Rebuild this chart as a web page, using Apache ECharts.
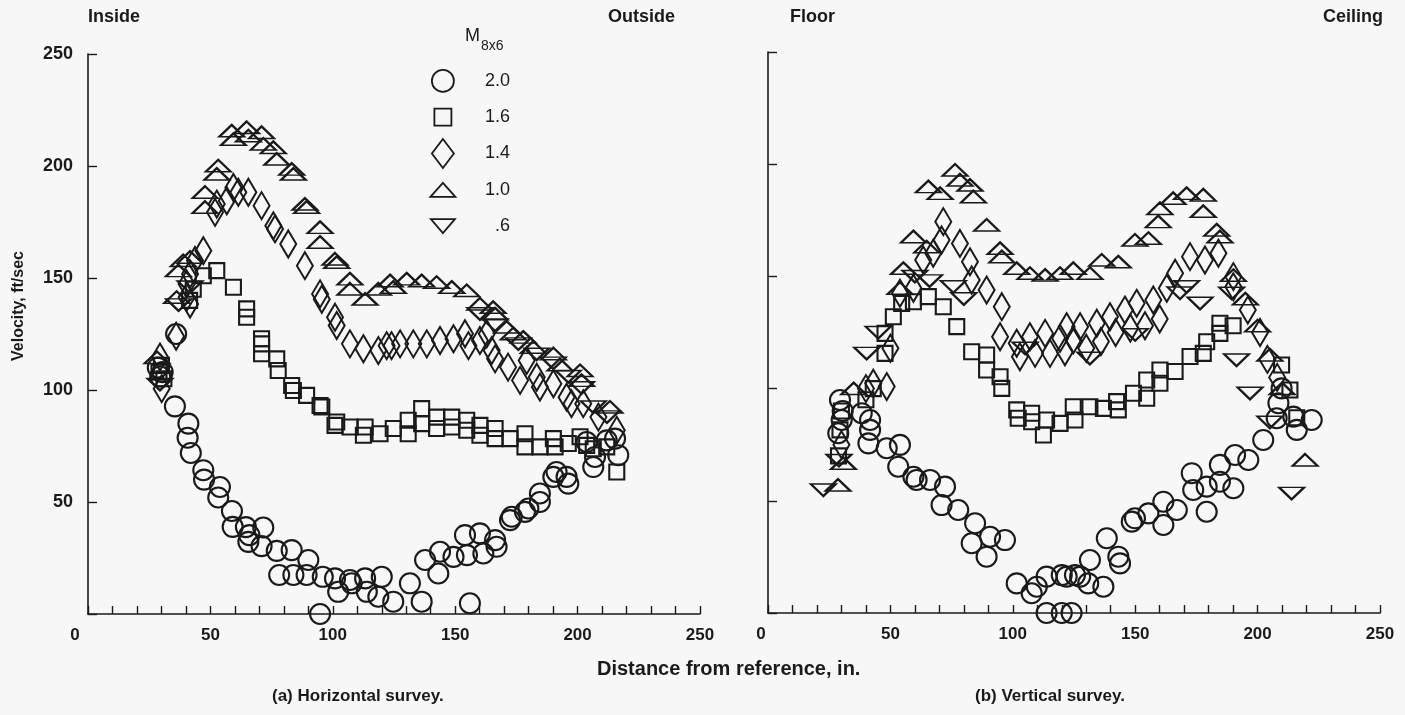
<!DOCTYPE html>
<html><head><meta charset="utf-8">
<script src="https://cdn.jsdelivr.net/npm/echarts@6.0.0/dist/echarts.min.js"></script>
<style>html,body{margin:0;padding:0;background:#f7f7f7}#c{width:1405px;height:715px}</style>
</head><body><div id="c"></div><script>
// ---- data (x = distance in., y = velocity ft/sec) ----
var legendNames = ['2.0', '1.6', '1.4', '1.0', '.6'];
var xTickLabels = [0, 50, 100, 150, 200, 250];
var yTickLabels = [50, 100, 150, 200, 250];

// (a) Horizontal survey
var hCircle = [[28.5,110],[29.5,106],[30.5,108],[35.5,92.7],[36,125],[40.7,78.7],[41,85],[42,71.9],[47.1,64.2],[47.4,60],[53.2,52],[53.9,56.7],[58.8,46],[59.1,38.9],[64.5,38.8],[65.5,32.2],[65.9,35.2],[70.9,30.3],[71.6,38.6],[77.1,28.2],[78.1,17.4],[83.2,28.5],[83.9,17.4],[89.3,17.4],[90,24.1],[94.8,0],[95.9,16.6],[100.9,15.9],[102.2,9.9],[107,15.2],[107.7,13.7],[113.2,15.9],[113.9,9.9],[118.6,7.7],[120,16.6],[124.7,5.5],[131.5,13.7],[136.3,5.5],[137.7,24.1],[143.1,18.1],[143.8,27.8],[149.3,25.5],[154,35.2],[154.8,26.3],[156,4.8],[160.1,36],[161.5,27],[166.3,33],[166.9,30],[172.4,41.9],[173.1,43.4],[178.5,45.6],[179.9,47.1],[184.6,50],[184.6,53.8],[190.1,61.2],[191.4,63.4],[195.5,61.2],[196.2,58.2],[203.7,76.8],[206.4,65.6],[207.1,70.1],[211.9,77.5],[215.3,78.3],[216.6,70.9]];
var hSquare = [[29,108],[30,111],[31,105],[41.5,140],[43,145],[47.1,151],[52.6,153.3],[59.4,145.9],[64.8,136.2],[64.8,132.5],[70.9,122.9],[70.9,120.6],[70.9,116.2],[77.1,113.9],[77.7,108.7],[83.2,102],[83.9,99.8],[89.3,97.6],[94.8,93.1],[95.5,92.4],[100.9,84.2],[101.6,85.7],[107,83.5],[112.5,79.8],[113.2,83.5],[119.3,80.5],[124.7,82.8],[130.8,80.5],[130.8,86.5],[136.3,91.7],[136.3,85],[142.4,87.9],[142.4,82.8],[148.6,87.9],[148.6,83.5],[154.7,86.5],[154.7,82],[160.1,84.2],[160.1,79.8],[166.3,82.8],[166.3,78.3],[172.4,78.3],[178.5,80.5],[178.5,74.6],[184.6,74.6],[190.1,78.3],[190.8,74.6],[196.2,76.1],[201,79.1],[203.7,75.3],[206.4,73.8],[211.9,74.6],[216,63.4]];
var hDiamond = [[29.4,114.7],[30.1,100.6],[36,124],[40.3,141.4],[40.3,147.3],[41.7,138.4],[41.7,151.8],[43.7,157.8],[47.1,162.2],[51.9,179.3],[52.6,183],[56.7,184.5],[59.4,190.4],[61.4,188.3],[65.5,188.3],[70.9,182.3],[75.7,173.3],[76.4,171.9],[81.8,165.2],[88.6,155.5],[94.8,142.9],[95.5,140.5],[100.9,132.5],[101.6,128.8],[107,120.6],[112.5,118.4],[118.6,117.6],[122,119.8],[124,119.8],[127.5,120.6],[132.9,120.6],[138.4,120.6],[143.8,122.1],[149.3,122.9],[154,125.1],[155.4,119.8],[160.1,122.1],[162.9,125.1],[164.9,117.6],[166.3,113.9],[171.6,110.2],[176.5,104.3],[179.2,113.2],[183.3,105.7],[184.6,101.3],[190.1,102.8],[195.5,96.8],[197.5,93.9],[202.3,93.9],[208.5,87.9],[216,82]];
var hTriangle = [[28.2,114.5],[36.2,141.4],[36.9,153.3],[38.9,157.8],[41.7,159.3],[47.8,181.6],[47.8,188.3],[52.6,196.4],[53.2,200.1],[58.7,215.7],[59.4,211.9],[64.8,217.2],[65.5,213.5],[70.9,215],[71.6,209.8],[75.7,208.3],[77.1,203.1],[83.2,198.6],[83.9,196.4],[88.6,183],[89.3,181.6],[94.8,172.6],[94.8,166],[100.9,158.5],[101.6,157],[107,149.6],[107,145.1],[113.2,140.6],[118.6,145.1],[123.4,148.8],[124.7,145.9],[130.2,149.6],[136.3,148.8],[142.4,148.1],[148.6,145.9],[154.7,144.4],[160.1,138.4],[165.5,136.9],[166.3,134],[171,128.1],[173.7,125.1],[177.8,123.6],[181.9,119.1],[190.1,116.2],[192.8,111.3],[201,108.7],[201.6,104.3],[213.2,92.4]];
var hDown = [[29.4,102.5],[37,138],[41.7,146],[160.1,134],[166.3,129],[175.8,120.6],[183.3,116],[190.1,112],[196.2,106],[201.6,101],[206.4,92.4],[212,88]];

// (b) Vertical survey
var vCircle = [[28.7,80.1],[29.4,94.9],[30.1,86],[30.5,90],[38.3,89],[41,75.6],[41.7,81.6],[41.7,86],[48.5,73.4],[53.2,65.2],[53.9,74.9],[59.4,60.7],[60.7,59.3],[66.2,59.3],[70.9,48.1],[72.3,56.3],[77.7,45.9],[83.2,31.1],[84.6,40],[89.3,25.1],[90.7,34],[96.8,32.5],[101.6,13.2],[107.7,8.8],[109.8,11.7],[113.8,0],[113.8,16.2],[120,0],[120,16.9],[122,16.2],[124,0],[125.4,16.9],[127.5,16.2],[130.8,13.2],[131.5,23.6],[137,11.7],[138.4,33.3],[143.1,25.1],[143.8,22.1],[148.6,40.7],[149.9,42.2],[155.4,44.4],[161.5,39.2],[161.5,49.6],[167,45.9],[173.1,62.3],[173.7,54.8],[179.2,45.1],[179.2,56.3],[184.6,58.5],[184.6,66],[190.1,55.6],[190.8,70.4],[196.2,68.2],[202.3,77.1],[207.8,86.8],[208.5,93.5],[209.8,100.1],[214.6,87.5],[216,81.6],[222.1,86]];
var vSquare = [[28.8,70],[29.4,81.6],[30,90],[40,95],[43,100],[47.8,115.7],[47.8,124.6],[51.2,132],[54.6,138],[59.4,138.7],[65.5,141],[71.6,136.5],[77.1,127.6],[83.2,116.4],[89.3,115],[89.3,108.3],[94.8,105.3],[95.5,100.1],[101.6,90.5],[102.2,86.8],[107.7,89],[107.7,85.2],[112.5,79.3],[113.8,86],[119.3,84.5],[124.7,91.9],[125.4,86],[131.5,91.9],[137,91.2],[142.4,94.2],[143.1,90.5],[149.3,97.9],[154.7,95.7],[154.7,103.8],[160.1,108.3],[160.1,102.4],[166.3,107.6],[172.4,114.3],[177.8,115.7],[179.2,120.9],[184.6,124.6],[184.6,129.1],[190,128],[209.8,110.5],[213.2,99.4],[216,87]];
var vDiamond = [[30,75],[40,100],[43,102.4],[48.5,100.9],[50,118],[53.9,142.5],[59.4,144.7],[63.4,157.3],[67.5,160.3],[70.9,166.2],[71.6,174.4],[78.4,164.7],[82.5,156.5],[83.2,148.4],[89.3,143.9],[95.5,136.5],[94.8,123.1],[101.6,120.2],[102.9,114.2],[107,123.1],[109.1,115.7],[113.2,124.6],[115.2,115.7],[119.3,122.4],[121.3,116.4],[122,127.6],[124.7,121.7],[127.5,127.6],[130,118],[134.3,129.1],[136,121],[139.7,132],[142,125],[145.8,135],[148,127],[150.6,138],[154,128],[157.4,139.5],[160,131],[162.9,144.7],[166.3,151.4],[172.4,158.8],[178.5,157.3],[184,160.3],[190.1,149.9],[190.1,145.4],[196,135],[201,125],[204,113],[208,105]];
var vTriangle = [[28.6,57],[30.8,66.7],[35,100],[53.9,144.7],[55.3,153.6],[59.4,167.7],[64.8,163.2],[65.5,190],[70.3,187],[76.4,197.4],[78.4,193],[82.5,190.7],[83.9,185.5],[89.3,172.9],[94.8,162.5],[95.5,158.8],[101.6,153.6],[107,151.4],[113.2,150.6],[119.3,151.4],[124.7,153.6],[131.5,151.4],[136.3,157.3],[143.1,156.5],[149.9,166.2],[155.4,167],[159.4,174.4],[160.1,180.3],[165.5,184.8],[171,187],[177.8,186.3],[177.8,179],[183.3,170.7],[184.6,167.7],[190.1,150.5],[195,140],[200,128],[205,115],[210,100],[219.4,68.2]];
var vDown = [[22.6,54.8],[29,68],[40.3,115.7],[45,125],[60,150],[66,148],[75.7,145.4],[80,140],[105,118],[131.5,113.5],[150,124],[168.3,142.6],[171,145.4],[176.5,138],[189.4,142.5],[191.4,112.7],[196.9,97.9],[205,85],[213.9,53.3]];

// ---- chart ----
var FONT = '"Liberation Sans", Arial, Helvetica, sans-serif';
var INK = '#1a1a1a';
var markStyle = {color: 'rgba(0,0,0,0)', borderColor: INK, borderWidth: 2.1, opacity: 1};

var symCircle = 'circle', symSquare = 'rect', symDiamond = 'diamond', symTri = 'triangle';
function mk(name, data, idx, symbol, size, rot) {
  return {type: 'scatter', name: name, data: data, xAxisIndex: idx, yAxisIndex: idx,
    symbol: symbol, symbolSize: size, symbolRotate: rot || 0,
    itemStyle: markStyle, silent: true, animation: false,
    emphasis: {disabled: true}};
}

function xAxisCfg(idx, zeroShift) {
  return {gridIndex: idx, type: 'value', min: 0, max: 250, interval: 10,
    axisLine: {onZero: false, lineStyle: {color: INK, width: 1.6}},
    axisTick: {inside: true, length: 8, lineStyle: {color: INK, width: 1.4}},
    splitLine: {show: false},
    axisLabel: {margin: 13, color: INK, fontFamily: FONT, fontSize: 17, fontWeight: 'bold',
      formatter: function (v) {
        if (xTickLabels.indexOf(v) < 0) return '';
        return v === 0 ? '{z|0}' : String(v);
      },
      rich: {z: {padding: [0, zeroShift, 0, 0], fontFamily: FONT, fontSize: 17, fontWeight: 'bold', color: INK}}
    }};
}
function yAxisCfg(idx, showLabels) {
  var a = {gridIndex: idx, type: 'value', min: 0, max: 250, interval: 50,
    axisLine: {onZero: false, lineStyle: {color: INK, width: 1.6}},
    axisTick: {inside: true, length: 9, lineStyle: {color: INK, width: 1.4}},
    splitLine: {show: false},
    axisLabel: {show: showLabels, margin: 15, color: INK, fontFamily: FONT, fontSize: 18, fontWeight: 'bold',
      formatter: function (v) { return yTickLabels.indexOf(v) >= 0 ? String(v) : ''; }}};
  if (showLabels) {
    a.name = 'Velocity, ft/sec';
    a.nameLocation = 'middle';
    a.nameRotate = 90;
    a.nameGap = 61;
    a.nameTextStyle = {color: INK, fontFamily: FONT, fontSize: 16, fontWeight: 'bold', padding: [0, 0, 0, 56]};
  }
  return a;
}

var iconPad = 'M0,0 M26,30 ';
var legendIcons = [
  'path://' + iconPad + 'M2,15 A11,11 0 1,1 24,15 A11,11 0 1,1 2,15 Z',
  'path://' + iconPad + 'M4.5,6.5 L21.5,6.5 L21.5,23.5 L4.5,23.5 Z',
  'path://' + iconPad + 'M13,0.5 L24,15 L13,29.5 L2,15 Z',
  'path://' + iconPad + 'M13,8 L25.5,22 L0.5,22 Z',
  'path://' + iconPad + 'M1,8 L25,8 L13,22 Z'
];

function txt(text, left, top, size, weight) {
  return {text: text, left: left, top: top, padding: 0,
    textStyle: {color: INK, fontFamily: FONT, fontSize: size, fontWeight: weight || 'bold'}};
}

var option = {
  backgroundColor: '#f7f7f7',
  animation: false,
  textStyle: {fontFamily: FONT},
  title: [
    txt('Inside', 88, 8, 18),
    txt('Outside', 608, 8, 18),
    txt('Floor', 790, 8, 18),
    txt('Ceiling', 1323, 8, 18),
    txt('Distance from reference, in.', 597, 659, 20),
    txt('(a) Horizontal survey.', 272, 688, 17),
    txt('(b) Vertical survey.', 975, 688, 17)
  ],
  graphic: [
    {type: 'text', left: 465, top: 27, style: {text: 'M', fill: INK, font: '18px ' + FONT}},
    {type: 'text', left: 481, top: 39, style: {text: '8x6', fill: INK, font: '14px ' + FONT}}
  ],
  legend: {
    orient: 'vertical', left: 424, top: 60,
    itemWidth: 26, itemHeight: 30, itemGap: 4.5,
    selectedMode: false,
    data: legendNames.map(function (n, i) { return {name: n, icon: legendIcons[i]}; }),
    itemStyle: {color: 'rgba(0,0,0,0)', borderColor: INK, borderWidth: 1.8},
    formatter: function (n) { return '{v|' + n + '}'; },
    textStyle: {color: INK, fontFamily: FONT, fontSize: 18,
      rich: {v: {width: 49, align: 'right', color: INK, fontFamily: FONT, fontSize: 18}}}
  },
  grid: [
    {left: 88, right: 705, top: 54, bottom: 101, containLabel: false, outerBoundsMode: 'none'},
    {left: 768, right: 25, top: 52, bottom: 102, containLabel: false, outerBoundsMode: 'none'}
  ],
  xAxis: [xAxisCfg(0, 26), xAxisCfg(1, 14)],
  yAxis: [yAxisCfg(0, true), yAxisCfg(1, false)],
  series: [
    mk(legendNames[0], hCircle, 0, symCircle, 20),
    mk(legendNames[1], hSquare, 0, symSquare, 15),
    mk(legendNames[2], hDiamond, 0, symDiamond, [16, 27]),
    mk(legendNames[3], hTriangle, 0, symTri, [25, 12]),
    mk(legendNames[4], hDown, 0, symTri, [25, 12], 180),
    mk(legendNames[0], vCircle, 1, symCircle, 20),
    mk(legendNames[1], vSquare, 1, symSquare, 15),
    mk(legendNames[2], vDiamond, 1, symDiamond, [16, 27]),
    mk(legendNames[3], vTriangle, 1, symTri, [25, 12]),
    mk(legendNames[4], vDown, 1, symTri, [25, 12], 180)
  ]
};
var chart = echarts.init(document.getElementById('c'), null, {renderer: 'canvas'});
chart.setOption(option);
</script></body></html>
